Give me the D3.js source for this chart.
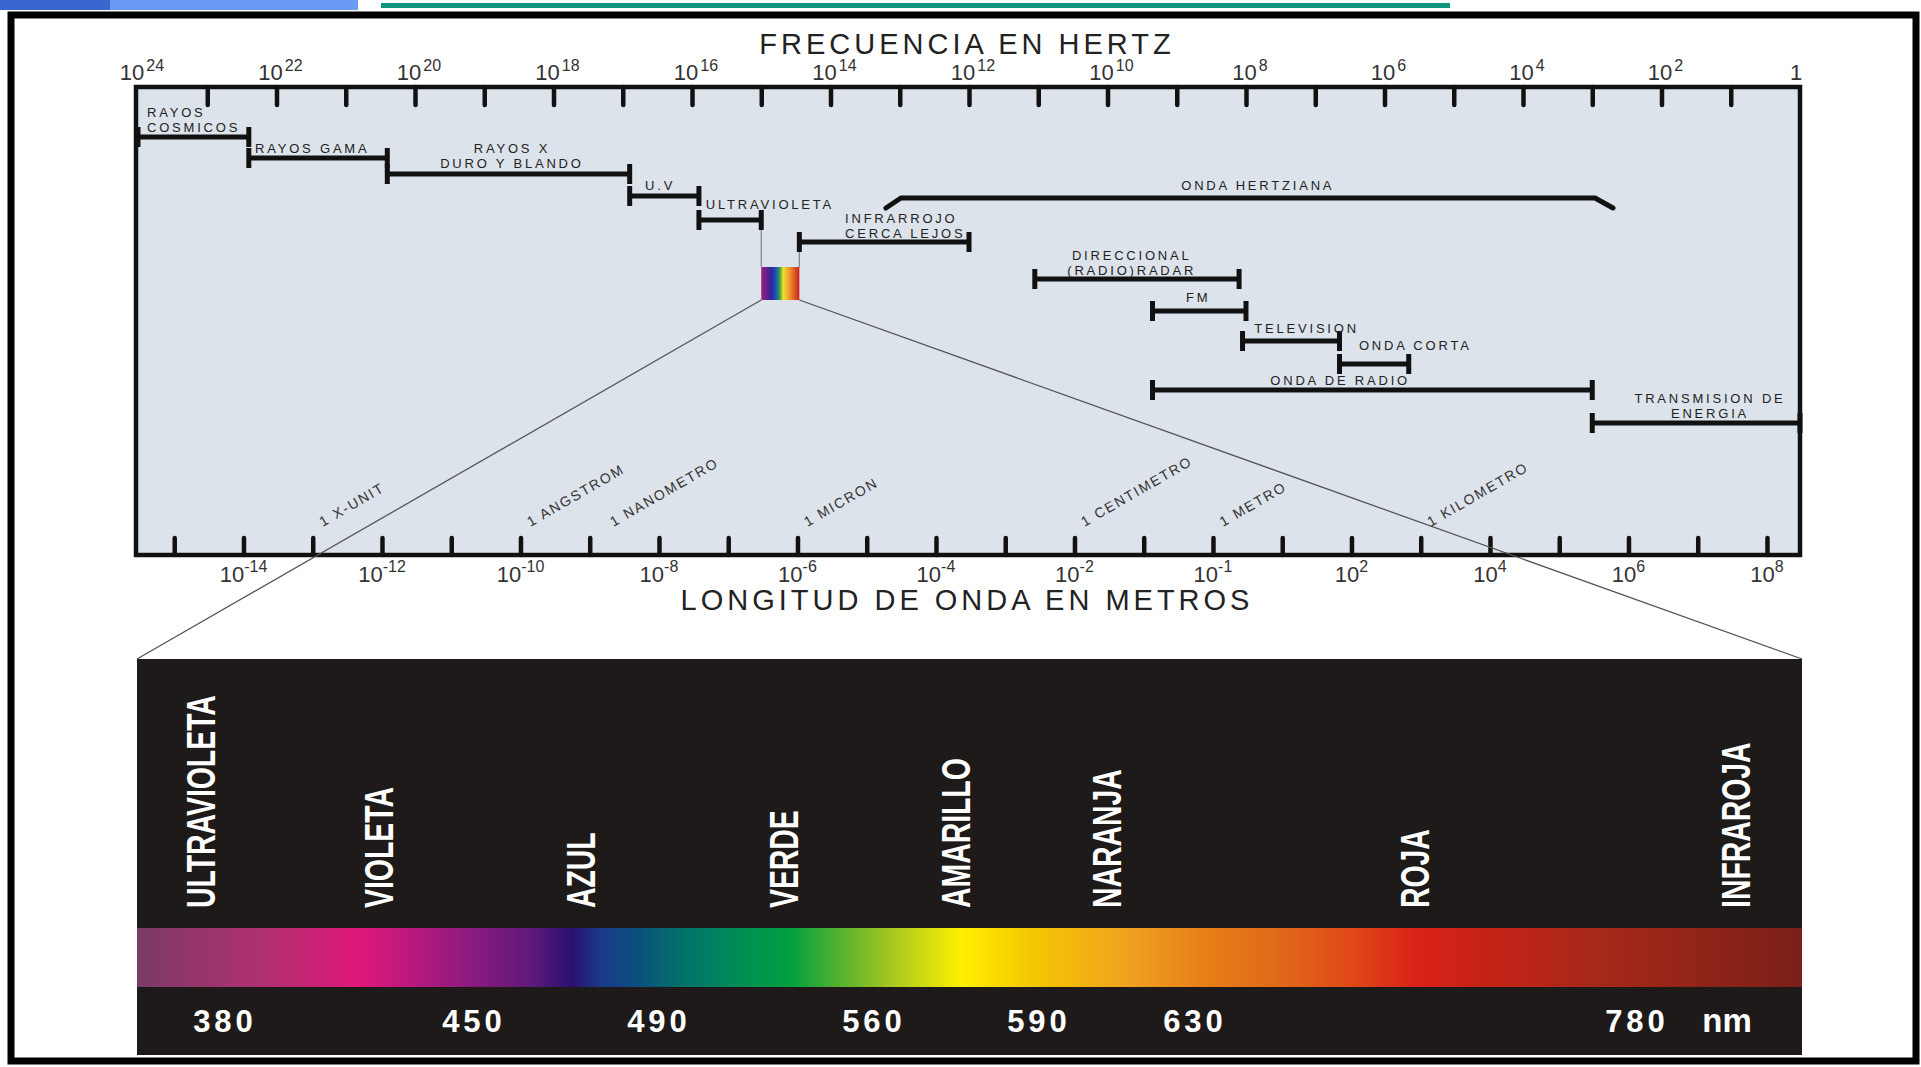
<!DOCTYPE html>
<html>
<head>
<meta charset="utf-8">
<script src="https://cdn.jsdelivr.net/npm/d3@7"></script>
<style>
  html, body { margin: 0; padding: 0; background: #fff; }
  svg { display: block; font-family: "Liberation Sans", Arial, sans-serif; }
</style>
</head>
<body>
<div id="vis"></div>
<script>
const W = 1921, H = 1067;

// frequency axis labels (exponent of 10, in Hz)
const freqLabelExp = [24, 22, 20, 18, 16, 14, 12, 10, 8, 6, 4, 2, 0];
// wavelength axis labels as printed (the 10^0 slot reads 10^-1 in the original)
const waveLabelAt = [-14, -12, -10, -8, -6, -4, -2, 0, 2, 4, 6, 8];
const waveLabelSup = ['-14', '-12', '-10', '-8', '-6', '-4', '-2', '-1', '2', '4', '6', '8'];

// bands, log10 of the frequency at each end
const bandNames = ['RAYOS COSMICOS', 'RAYOS GAMA', 'RAYOS X', 'U.V', 'ULTRAVIOLETA', 'INFRARROJO',
  'ONDA HERTZIANA', 'DIRECCIONAL', 'FM', 'TELEVISION', 'ONDA CORTA', 'ONDA DE RADIO', 'TRANSMISION DE ENERGIA'];
const bandFrom = [24, 22.4, 20.4, 16.9, 15.9, 14.45, 13.2, 11.05, 9.35, 8.05, 6.65, 9.35, 3.0];
const bandTo = [22.4, 20.4, 16.9, 15.9, 15.0, 12.0, 2.7, 8.1, 8.0, 6.65, 5.65, 3.0, 0];
const bandLines = [['RAYOS', 'COSMICOS'], ['RAYOS GAMA'], ['RAYOS X', 'DURO Y BLANDO'], ['U.V'], ['ULTRAVIOLETA'],
  ['INFRARROJO', 'CERCA LEJOS'], ['ONDA HERTZIANA'], ['DIRECCIONAL', '(RADIO)RADAR'], ['FM'], ['TELEVISION'],
  ['ONDA CORTA'], ['ONDA DE RADIO'], ['TRANSMISION DE', 'ENERGIA']];

// named lengths, log10 of metres
const unitNames = ['1 X-UNIT', '1 ANGSTROM', '1 NANOMETRO', '1 MICRON', '1 CENTIMETRO', '1 METRO', '1 KILOMETRO'];
const unitLog = [-13, -10, -8.8, -6, -2, 0, 3];

// visible spectrum
const colorNames = ['ULTRAVIOLETA', 'VIOLETA', 'AZUL', 'VERDE', 'AMARILLO', 'NARANJA', 'ROJA', 'INFRAROJA'];
const nmValues = [380, 450, 490, 560, 590, 630, 780];

// ---- layout only ----
const panel = { left: 138, right: 1800, top: 87, bottom: 555 };
const bandRowY = [137, 158, 174, 196, 220, 242, 198, 279, 311, 341, 364, 390, 423];
const bandLabelAt = [23.87, 22.31, 18.6, 16.46, 15.8, 13.79, 7.83, 9.65, 8.69, 7.88, 6.37, 6.64, 1.3];
const bandLabelAnchor = ['start', 'start', 'middle', 'middle', 'start', 'start', 'middle', 'middle', 'middle', 'start', 'start', 'middle', 'middle'];
const bandLabelLift = [5, 5, 6, 6, 11, 4, 8, 4, 9, 8, 14, 5, 5];
const box = { left: 137, right: 1802, top: 659, bottom: 1055 };
const colorNameX = [201, 379, 581, 784, 956, 1107, 1415, 1736];
const nmX = [225, 474, 659, 874, 1039, 1195, 1637];
const spectrumStops = [
  [0, '#7a3a68'], [0.075, '#b03070'], [0.134, '#e0187a'], [0.189, '#9a1a80'], [0.237, '#5e1a7a'],
  [0.261, '#2a1070'], [0.279, '#1a3a8a'], [0.299, '#0d4e80'], [0.327, '#00706a'], [0.358, '#008a58'],
  [0.392, '#00a040'], [0.42, '#50b030'], [0.454, '#a8c820'], [0.495, '#fff000'], [0.536, '#f4c800'],
  [0.598, '#f0a020'], [0.638, '#e88018'], [0.688, '#e06818'], [0.729, '#e04818'], [0.771, '#d82018'],
  [0.874, '#a82818'], [1, '#7a2018']
];
const miniStops = [
  [0, '#a0207a'], [0.15, '#602090'], [0.28, '#2a2a9a'], [0.38, '#2050c0'], [0.48, '#30a040'],
  [0.58, '#f0e030'], [0.72, '#f0a030'], [0.86, '#e06020'], [1, '#c82020']
];

const svg = d3.select('#vis').append('svg').attr('width', W).attr('height', H);
const defs = svg.append('defs');

function gradient(id, stops) {
    const g = defs.append('linearGradient').attr('id', id)
        .attr('x1', 0).attr('x2', 1).attr('y1', 0).attr('y2', 0);
    g.selectAll('stop').data(stops).join('stop')
        .attr('offset', d => d[0])
        .attr('stop-color', d => d[1]);
}
gradient('spectrum', spectrumStops);
gradient('mini', miniStops);

// header strip and frame
svg.append('rect').attr('x', 0).attr('y', 0).attr('width', 110).attr('height', 10).attr('fill', '#3767cf');
svg.append('rect').attr('x', 110).attr('y', 0).attr('width', 248).attr('height', 10).attr('fill', '#6a9bf4');
svg.append('rect').attr('x', 381).attr('y', 3).attr('width', 1069).attr('height', 5).attr('fill', '#109580');
svg.append('rect').attr('x', 11).attr('y', 15).attr('width', 1905).attr('height', 1046)
    .attr('fill', 'none').attr('stroke', '#000').attr('stroke-width', 7);

const fx = d3.scaleLinear().domain([24, 0]).range([panel.left, panel.right]);
const logC = Math.log10(2.998e8);
const wx = d3.scaleLinear().domain([logC - 24, logC]).range([panel.left, panel.right]);

svg.append('rect')
    .attr('x', panel.left - 2).attr('y', panel.top)
    .attr('width', panel.right - panel.left + 2).attr('height', panel.bottom - panel.top)
    .attr('fill', '#dde3ea').attr('stroke', '#111').attr('stroke-width', 4.5);

const topAxis = svg.append('g').attr('transform', `translate(0,${panel.top})`)
    .call(d3.axisTop(fx).tickValues(d3.range(23, 0, -1)).tickSizeInner(-18).tickSizeOuter(0).tickFormat(''));
const botAxis = svg.append('g').attr('transform', `translate(0,${panel.bottom})`)
    .call(d3.axisBottom(wx).tickValues(d3.range(-15, 9)).tickSizeInner(-17).tickSizeOuter(0).tickFormat(''));
[topAxis, botAxis].forEach(a => {
    a.select('.domain').remove();
    a.selectAll('.tick line').attr('stroke', '#111').attr('stroke-width', 4.5).attr('stroke-linecap', 'round');
});

// axis labels
svg.append('g').selectAll('text').data(freqLabelExp).join('text')
    .attr('x', d => fx(d) + (d === 0 ? -4 : 4))
    .attr('y', 80)
    .attr('text-anchor', 'middle')
    .attr('fill', '#333')
    .style('font-size', '22px')
    .each(function (d) {
        const t = d3.select(this);
        if (d === 0) { t.text('1'); return; }
        t.append('tspan').text('10');
        t.append('tspan').attr('dx', 2).attr('dy', -9).style('font-size', '16px').text(d);
    });

svg.append('g').selectAll('text').data(waveLabelAt).join('text')
    .attr('x', d => wx(d))
    .attr('y', 582)
    .attr('text-anchor', 'middle')
    .attr('fill', '#333')
    .style('font-size', '22px')
    .each(function (d, i) {
        const t = d3.select(this);
        t.append('tspan').text('10');
        t.append('tspan').attr('dy', -10).style('font-size', '16px').text(waveLabelSup[i]);
    });

svg.append('text').attr('x', 967).attr('y', 54).attr('text-anchor', 'middle')
    .attr('fill', '#222').style('font-size', '29px').style('letter-spacing', '4px')
    .text('FRECUENCIA EN HERTZ');
svg.append('text').attr('x', 967).attr('y', 610).attr('text-anchor', 'middle')
    .attr('fill', '#222').style('font-size', '29px').style('letter-spacing', '4px')
    .text('LONGITUD DE ONDA EN METROS');

// bands
const bands = bandNames.map((name, i) => ({
    name, from: bandFrom[i], to: bandTo[i], y: bandRowY[i], lines: bandLines[i],
    at: bandLabelAt[i], anchor: bandLabelAnchor[i], lift: bandLabelLift[i]
}));

const uv = bands[4], ir = bands[5];
const miniTop = 267, miniBot = 300;

// zoom guides to the visible spectrum
const guide = svg.append('g').attr('stroke', '#555').attr('stroke-width', 1.3);
guide.append('line').attr('x1', fx(uv.to)).attr('x2', fx(uv.to)).attr('y1', uv.y).attr('y2', miniTop).attr('stroke', '#888');
guide.append('line').attr('x1', fx(ir.from)).attr('x2', fx(ir.from)).attr('y1', ir.y).attr('y2', miniTop).attr('stroke', '#888');
guide.append('line').attr('x1', fx(uv.to)).attr('y1', miniBot).attr('x2', box.left).attr('y2', box.top);
guide.append('line').attr('x1', fx(ir.from)).attr('y1', miniBot).attr('x2', box.right).attr('y2', box.top);
svg.append('rect').attr('x', fx(uv.to)).attr('y', miniTop)
    .attr('width', fx(ir.from) - fx(uv.to)).attr('height', miniBot - miniTop)
    .attr('fill', 'url(#mini)');

const bandG = svg.append('g').attr('stroke', '#111').attr('fill', 'none');
bands.forEach(b => {
    const x1 = fx(b.from), x2 = fx(b.to);
    if (b.name === 'ONDA HERTZIANA') {
        bandG.append('path')
            .attr('d', `M${x1},${b.y + 10}L${x1 + 15},${b.y}L${x2 - 18},${b.y}L${x2},${b.y + 10}`)
            .attr('stroke-width', 5).attr('stroke-linejoin', 'round').attr('stroke-linecap', 'round');
        return;
    }
    bandG.append('line').attr('x1', x1).attr('x2', x2).attr('y1', b.y).attr('y2', b.y).attr('stroke-width', 5);
    [x1, x2].forEach(x => {
        bandG.append('line').attr('x1', x).attr('x2', x).attr('y1', b.y - 10).attr('y2', b.y + 10)
            .attr('stroke-width', 5);
    });
});

const labelG = svg.append('g').attr('fill', '#222').style('font-size', '13px').style('letter-spacing', '2.8px');
bands.forEach(b => {
    const n = b.lines.length;
    b.lines.forEach((line, j) => {
        labelG.append('text')
            .attr('x', fx(b.at))
            .attr('y', b.y - b.lift - (n - 1 - j) * 15)
            .attr('text-anchor', b.anchor)
            .text(line);
    });
});

// named lengths on the wavelength scale
svg.append('g').selectAll('text').data(unitNames).join('text')
    .attr('transform', (d, i) => `translate(${wx(unitLog[i]) + 10},527) rotate(-30)`)
    .attr('fill', '#333')
    .style('font-size', '14px')
    .style('letter-spacing', '1.8px')
    .text(d => d);

// visible spectrum box
svg.append('rect').attr('x', box.left).attr('y', box.top)
    .attr('width', box.right - box.left).attr('height', box.bottom - box.top)
    .attr('fill', '#1e1a19');
svg.append('rect').attr('x', box.left).attr('y', 928)
    .attr('width', box.right - box.left).attr('height', 59)
    .attr('fill', 'url(#spectrum)');

svg.append('g').selectAll('text').data(colorNames).join('text')
    .attr('transform', (d, i) => `translate(${colorNameX[i]},908) rotate(-90) scale(0.71,1)`)
    .attr('dy', '0.36em')
    .attr('fill', '#fff')
    .style('font-size', '40px')
    .style('font-weight', 'bold')
    .text(d => d);

svg.append('g').selectAll('text').data(nmValues).join('text')
    .attr('x', (d, i) => nmX[i])
    .attr('y', 1032)
    .attr('text-anchor', 'middle')
    .attr('fill', '#fff')
    .style('font-size', '31px')
    .style('font-weight', 'bold')
    .style('letter-spacing', '4px')
    .text(d => d);
svg.append('text').attr('x', 1727).attr('y', 1032).attr('text-anchor', 'middle')
    .attr('fill', '#fff').style('font-size', '33px').style('font-weight', 'bold')
    .text('nm');
</script>
</body>
</html>
